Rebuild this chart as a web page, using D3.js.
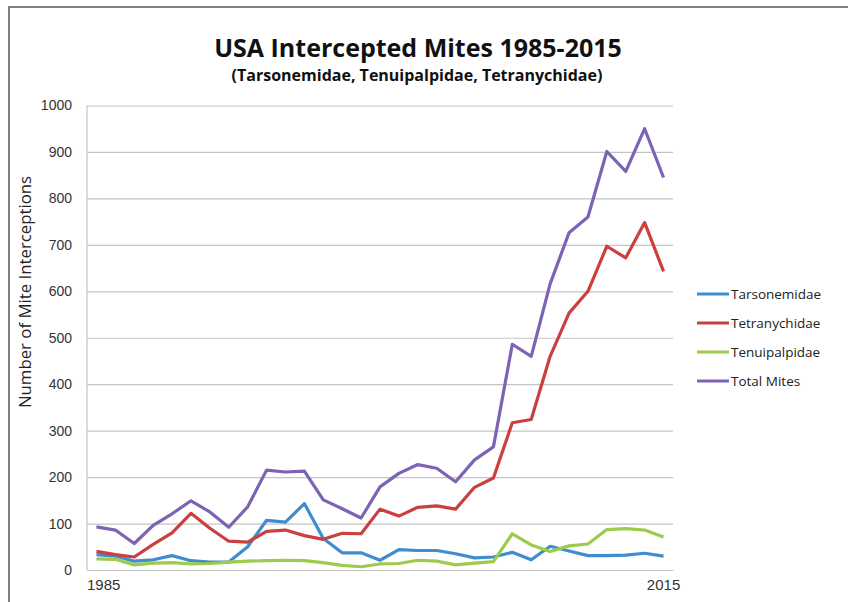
<!DOCTYPE html>
<html>
<head>
<meta charset="utf-8">
<script src="https://cdn.jsdelivr.net/npm/d3@7"></script>
<style>
  body { margin: 0; background: #fff; }
  svg { display: block; }
</style>
</head>
<body>
<div class="chart"></div>
<script>
var years = d3.range(1985, 2016);
var tarsonemidae = [33, 30, 19, 22, 31, 20, 17, 17, 50, 107, 103, 143, 68, 37, 37, 21, 44,
    42, 42, 35, 26, 28, 38, 22, 51, 41, 31, 31, 32, 36, 30];
var tetranychidae = [40, 33, 28, 55, 80, 122, 90, 62, 60, 83, 86, 74, 66, 79, 78, 131, 116,
    135, 138, 131, 178, 198, 317, 324, 460, 553, 600, 697, 672, 748, 643];
var tenuipalpidae = [24, 23, 11, 15, 16, 13, 14, 17, 19, 20, 21, 20, 16, 10, 7, 13, 14,
    21, 19, 11, 15, 18, 78, 54, 40, 52, 56, 87, 89, 86, 71];
var totalMites = [93, 86, 57, 96, 121, 149, 125, 92, 136, 215, 211, 213, 151, 132, 112, 179, 208,
    227, 219, 190, 237, 265, 486, 460, 616, 726, 760, 901, 858, 950, 845];
var yTicks = [0, 100, 200, 300, 400, 500, 600, 700, 800, 900, 1000];
var xLabels = [1985, 2015];

var series = [
    {name: 'Tarsonemidae', values: tarsonemidae, color: '#3f8dcf'},
    {name: 'Tetranychidae', values: tetranychidae, color: '#c9403f'},
    {name: 'Tenuipalpidae', values: tenuipalpidae, color: '#9ccb4d'},
    {name: 'Total Mites', values: totalMites, color: '#7c63b3'}
];
var width = 848, height = 602;
var font = '"Open Sans", "Noto Sans", sans-serif';

var svg = d3.select('.chart').append('svg')
    .attr('width', width)
    .attr('height', height);

// chart frame (only top and left edges show in the picture)
svg.append('path')
    .attr('d', 'M9,' + height + ' L9,7 L' + width + ',7')
    .style('fill', 'none')
    .style('stroke', '#555')
    .style('stroke-width', 1.5);

var x = d3.scaleBand().domain(years).range([87, 673]);
var y = d3.scaleLinear().domain([0, 1000]).range([570, 105.5]);
var px = function (i) { return x(years[i]) + x.bandwidth() / 2; };

// gridlines + y labels
var yAxis = svg.append('g')
    .attr('transform', 'translate(87,0)')
    .call(d3.axisLeft(y).tickValues(yTicks).tickSize(-586).tickPadding(15).tickFormat(d3.format('d')));
yAxis.select('.domain').remove();
yAxis.selectAll('.tick line').style('stroke', '#c4c4c4').style('stroke-width', 1.2);
yAxis.selectAll('.tick text')
    .style('font-family', 'Arial, "Liberation Sans", sans-serif')
    .style('font-size', '14px')
    .style('fill', '#333');

// y axis line
svg.append('line')
    .attr('x1', 87).attr('x2', 87)
    .attr('y1', y(1000)).attr('y2', y(0))
    .style('stroke', '#c4c4c4').style('stroke-width', 1.2);

// x axis
var xAxis = svg.append('g')
    .attr('transform', 'translate(0,570)')
    .call(d3.axisBottom(x).tickValues(xLabels).tickSize(0).tickPadding(9));
xAxis.select('.domain').style('stroke', '#c4c4c4').style('stroke-width', 1.2);
xAxis.selectAll('.tick text')
    .style('font-family', 'Arial, "Liberation Sans", sans-serif')
    .style('font-size', '15px')
    .style('fill', '#333');
// first label starts at the axis edge
xAxis.selectAll('.tick text').filter(function (d) { return d === 1985; })
    .attr('text-anchor', 'start')
    .attr('x', -x.bandwidth() / 2);

// lines
var line = d3.line()
    .x(function (d, i) { return px(i); })
    .y(function (d) { return y(d); });

svg.append('g').selectAll('.mite')
    .data(series)
    .enter()
    .append('path')
    .attr('class', 'mite')
    .attr('d', function (d) { return line(d.values); })
    .style('fill', 'none')
    .style('stroke', function (d) { return d.color; })
    .style('stroke-width', 3.2)
    .style('stroke-linejoin', 'round');

// titles
svg.append('text')
    .text('USA Intercepted Mites 1985-2015')
    .attr('x', 418).attr('y', 57)
    .attr('text-anchor', 'middle')
    .style('font-family', font)
    .style('font-weight', 'bold')
    .style('font-size', '25px')
    .style('fill', '#111');
svg.append('text')
    .text('(Tarsonemidae, Tenuipalpidae, Tetranychidae)')
    .attr('x', 417).attr('y', 81)
    .attr('text-anchor', 'middle')
    .style('font-family', font)
    .style('font-weight', 'bold')
    .style('font-size', '16px')
    .style('fill', '#111');

// y title
svg.append('text')
    .text('Number of Mite Interceptions')
    .attr('transform', 'translate(31,292) rotate(-90)')
    .attr('text-anchor', 'middle')
    .style('font-family', font)
    .style('font-size', '16.8px')
    .style('fill', '#222');

// legend
var legend = svg.append('g').selectAll('.leg')
    .data(series)
    .enter()
    .append('g')
    .attr('class', 'leg')
    .attr('transform', function (d, i) { return 'translate(697,' + (294 + i * 29) + ')'; });
legend.append('line')
    .attr('x1', 0).attr('x2', 32)
    .style('stroke', function (d) { return d.color; })
    .style('stroke-width', 3);
legend.append('text')
    .text(function (d) { return d.name; })
    .attr('x', 34).attr('dy', '0.35em')
    .style('font-family', font)
    .style('font-size', '13.5px')
    .style('fill', '#222');
</script>
</body>
</html>
